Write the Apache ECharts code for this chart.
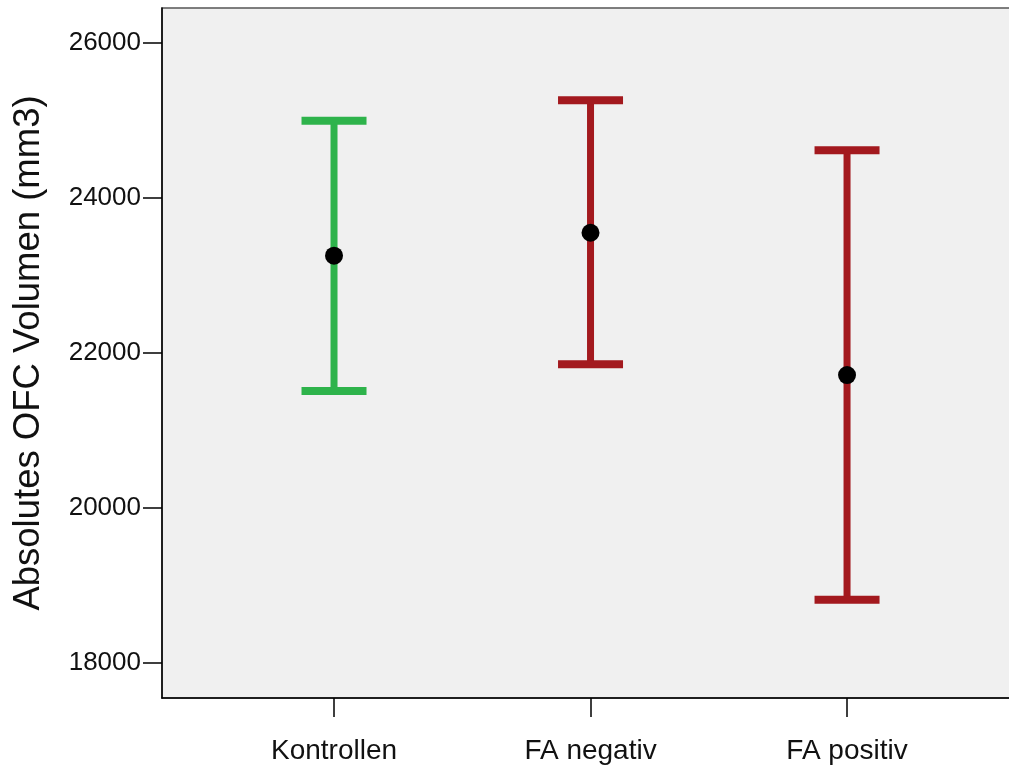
<!DOCTYPE html>
<html>
<head>
<meta charset="utf-8">
<script src="https://cdn.jsdelivr.net/npm/echarts@6/dist/echarts.min.js"></script>
<style>html,body{margin:0;padding:0;background:#fff;}#c{width:1009px;height:769px;}</style>
</head>
<body>
<div id="c"></div>
<script>
var categories = ['Kontrollen', 'FA negativ', 'FA positiv'];
var positions = [1, 2, 3];
var means = [23252, 23548, 21712];
var lowers = [21506, 21850, 18813];
var uppers = [24994, 25257, 24612];
var barColors = ['#2EB34B', '#A3191E', '#A3191E'];
var yTicks = [18000, 20000, 22000, 24000, 26000];
var yTitle = 'Absolutes OFC Volumen (mm3)';

var chart = echarts.init(document.getElementById('c'));
var errData = positions.map(function (p, i) { return [p, lowers[i], uppers[i], i]; });
var meanData = positions.map(function (p, i) { return [p, means[i]]; });

chart.setOption({
  animation: false,
  grid: {
    left: 162, top: 8, right: -4, bottom: 71,
    outerBoundsMode: 'none', containLabel: false,
    show: true, backgroundColor: '#F0F0F0', borderColor: '#555', borderWidth: 1.5
  },
  xAxis: {
    type: 'value', min: 0.3294, max: 3.647,
    splitLine: { show: false },
    axisLine: { show: true, onZero: false, lineStyle: { color: '#000', width: 1.5 } },
    axisTick: { show: true, length: 19, customValues: positions, lineStyle: { color: '#000', width: 1.5 } },
    axisLabel: {
      customValues: positions, margin: 39,
      fontFamily: 'Liberation Sans, Arial, sans-serif', fontSize: 28, color: '#111',
      formatter: function (v) { return categories[positions.indexOf(Math.round(v))] || ''; }
    }
  },
  yAxis: {
    type: 'value', min: 17545, max: 26448,
    splitLine: { show: false },
    name: yTitle, nameLocation: 'middle', nameGap: 115, nameRotate: 90,
    nameTextStyle: { fontFamily: 'Liberation Sans, Arial, sans-serif', fontSize: 36.5, color: '#111' },
    axisLine: { show: true, onZero: false, lineStyle: { color: '#000', width: 1.5 } },
    axisTick: { show: true, length: 19, customValues: yTicks, lineStyle: { color: '#000', width: 1.5 } },
    axisLabel: {
      customValues: yTicks, margin: 21,
      fontFamily: 'Liberation Sans, Arial, sans-serif', fontSize: 26, color: '#111',
      formatter: function (v) { return String(Math.round(v)); }
    }
  },
  series: [
    {
      type: 'custom',
      data: errData,
      encode: { x: 0, y: [1, 2] },
      renderItem: function (params, api) {
        var x = api.value(0);
        var lo = api.coord([x, api.value(1)]);
        var hi = api.coord([x, api.value(2)]);
        var color = barColors[api.value(3)];
        var hw = 32.5;
        var style = { stroke: color, lineWidth: 7 };
        var capStyle = { stroke: color, lineWidth: 8 };
        return {
          type: 'group',
          children: [
            { type: 'line', shape: { x1: lo[0], y1: lo[1], x2: hi[0], y2: hi[1] }, style: style },
            { type: 'line', shape: { x1: hi[0] - hw, y1: hi[1], x2: hi[0] + hw, y2: hi[1] }, style: capStyle },
            { type: 'line', shape: { x1: lo[0] - hw, y1: lo[1], x2: lo[0] + hw, y2: lo[1] }, style: capStyle }
          ]
        };
      },
      z: 2
    },
    {
      type: 'scatter',
      data: meanData,
      symbol: 'circle', symbolSize: 18,
      itemStyle: { color: '#000', opacity: 1 },
      z: 3
    }
  ]
});
</script>
</body>
</html>
